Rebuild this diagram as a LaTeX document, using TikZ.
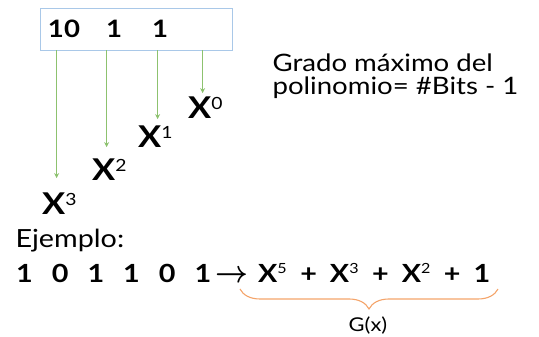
\documentclass[tikz,border=0pt]{standalone}
\usepackage{fontspec}
\setmainfont{Lato}[FakeStretch=1.15]
\usetikzlibrary{arrows.meta,decorations.pathreplacing}
\definecolor{BitBlue}{HTML}{A9C8E8}
\definecolor{BitGreen}{HTML}{8DC26F}
\definecolor{BitOrange}{HTML}{F4A46A}
\newcommand{\Xpow}[1]{X\textsuperscript{\mdseries\scalebox{0.8}{#1}}}
\newcommand{\Xplus}{\hspace{13pt}+\hspace{13pt}}
\tikzset{
  bitbox/.style={draw=BitBlue, line width=0.8pt, minimum width=192pt, minimum height=42pt,
                 text width=176pt, inner xsep=8pt, align=left,
                 font=\fontsize{24}{24}\selectfont\bfseries},
  power/.style={font=\fontsize{30}{30}\selectfont\bfseries, inner sep=1pt, anchor=base west},
  bitarrow/.style={-{Stealth[length=5pt,width=5pt]}, line width=1pt, BitGreen},
  note/.style={font=\fontsize{24}{23}\selectfont, align=left},
  bitline/.style={font=\fontsize{25}{25}\selectfont\bfseries, inner sep=1pt, anchor=base west},
  gbrace/.style={decorate, decoration={brace, mirror, amplitude=20pt}, line width=1.1pt, BitOrange},
}
\begin{document}
\begin{tikzpicture}[x=1pt, y=1pt]
  \useasboundingbox (0,0) rectangle (539,337);

  \node[bitbox] (bits) at (136,308) {10\hspace{26pt}1\hspace{30pt}1};
  \coordinate (b3) at ([xshift=17pt]bits.south west);
  \coordinate (b2) at ([xshift=67pt]bits.south west);
  \coordinate (b1) at ([xshift=118pt]bits.south west);
  \coordinate (b0) at ([xshift=163pt]bits.south west);

  \node[power] (x3) at (41,122) {\Xpow{3}};
  \node[power] (x2) at (91,156) {\Xpow{2}};
  \node[power] (x1) at (137,189) {\Xpow{1}};
  \node[power] (x0) at (187,218) {\Xpow{0}};

  \draw[bitarrow, shorten >=14pt] (b3) -- (b3 |- x3.north);
  \draw[bitarrow, shorten >=11pt] (b2) -- (b2 |- x2.north);
  \draw[bitarrow, shorten >=6pt] (b1) -- (b1 |- x1.north);
  \draw[bitarrow, shorten >=3pt] (b0) -- (b0 |- x0.north);

  \node[note, anchor=north west] (grado) at (269,287) {Grado máximo del\\polinomio= \#Bits - 1};

  \node[note, anchor=base west, font=\fontsize{25}{25}\selectfont] (ejemplo) at (12,89) {Ejemplo:};

  % example: 101101
  \node[bitline] (seq) at (15,54)
    {1\hspace{19pt}0\hspace{19pt}1\hspace{19pt}1\hspace{19pt}0\hspace{19pt}1\hspace{4pt}\scalebox{1.15}[1.25]{\boldmath$\rightarrow$}};
  \node[bitline] (poly) at (257,54) {\Xpow{5}\Xplus\Xpow{3}\Xplus\Xpow{2}\Xplus 1};

  \coordinate (brL) at (240,48);
  \coordinate (brR) at (498,48);
  \draw[gbrace] (brL) -- (brR);
  \node[font=\fontsize{19}{19}\selectfont] (gx) at (368,11) {G(x)};
\end{tikzpicture}
\end{document}
